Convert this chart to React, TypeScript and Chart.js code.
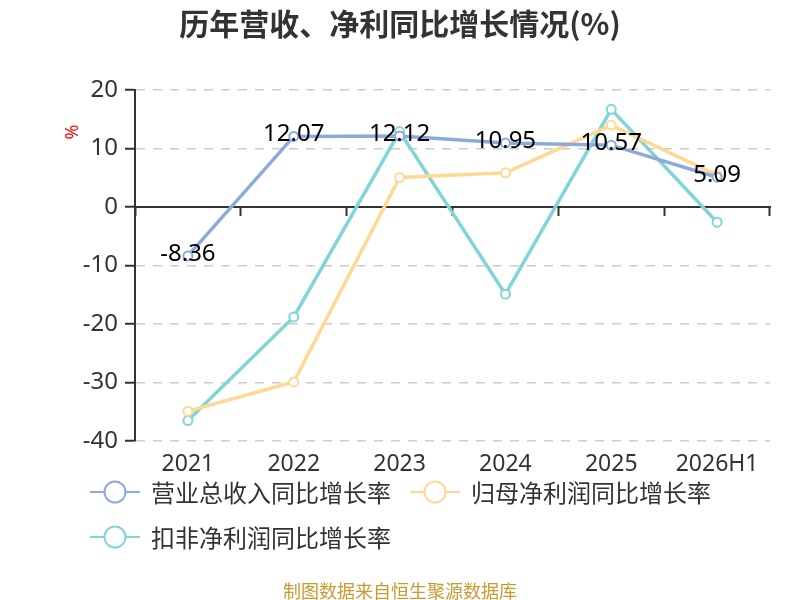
import { useEffect, useRef } from "react";
import { Chart, registerables } from "chart.js";
Chart.register(...registerables);

// chart data
const years = ["2021", "2022", "2023", "2024", "2025", "2026H1"];
const revenueGrowth = [-8.36, 12.07, 12.12, 10.95, 10.57, 5.09];
const netProfitGrowth = [-34.9, -29.9, 5.05, 5.85, 14.0, 5.45];
const deductedProfitGrowth = [-36.5, -18.8, 12.9, -14.9, 16.7, -2.6];
const seriesNames = ["营业总收入同比增长率", "归母净利润同比增长率", "扣非净利润同比增长率"];
const seriesColors = ["#8eaadc", "#ffd993", "#80d5d6"];
const yMin = -40;
const yMax = 20;
const yStep = 10;

const FONT = "'Noto Sans', 'Noto Sans CJK SC', sans-serif";

// draws the revenue values on top of the points
const valueLabels = {
  id: "valueLabels",
  afterDatasetsDraw(chart: Chart) {
    const ctx = chart.ctx;
    const meta = chart.getDatasetMeta(0);
    ctx.save();
    ctx.font = `24px ${FONT}`;
    ctx.fillStyle = "#000";
    ctx.textAlign = "center";
    ctx.textBaseline = "middle";
    meta.data.forEach((pt, i) => {
      ctx.fillText(revenueGrowth[i].toFixed(2), pt.x, pt.y - 2);
    });
    ctx.restore();
  },
};

// small red "%" unit beside the y axis
const unitLabel = {
  id: "unitLabel",
  afterDraw(chart: Chart) {
    const ctx = chart.ctx;
    ctx.save();
    ctx.translate(chart.chartArea.left - 62, chart.chartArea.top + 42);
    ctx.rotate(-Math.PI / 2);
    ctx.font = `18px ${FONT}`;
    ctx.fillStyle = "#ff0000";
    ctx.textAlign = "center";
    ctx.textBaseline = "middle";
    ctx.fillText("%", 0, 0);
    ctx.restore();
  },
};

function LegendIcon({ color }: { color: string }) {
  return (
    <svg width="50" height="26" style={{ display: "block" }}>
      <line x1="0" y1="13" x2="50" y2="13" stroke={color} strokeWidth="2" />
      <circle cx="25" cy="13" r="10.5" fill="#fff" stroke={color} strokeWidth="2" />
    </svg>
  );
}

export default function App() {
  const canvasRef = useRef<HTMLCanvasElement | null>(null);
  const chartRef = useRef<Chart<"line"> | null>(null);

  useEffect(() => {
    if (!canvasRef.current) return;
    const series = [revenueGrowth, netProfitGrowth, deductedProfitGrowth];
    chartRef.current = new Chart(canvasRef.current, {
      type: "line",
      data: {
        labels: years,
        datasets: series.map((values, i) => ({
          label: seriesNames[i],
          data: values,
          borderColor: seriesColors[i],
          backgroundColor: "#fff",
          borderWidth: 3.5,
          pointRadius: 4.5,
          pointBorderWidth: 2,
          pointBackgroundColor: "#fff",
          pointBorderColor: seriesColors[i],
          tension: 0,
        })),
      },
      options: {
        animation: false,
        responsive: false,
        maintainAspectRatio: false,
        layout: { padding: { top: 90, right: 30, left: 0, bottom: 0 } },
        plugins: {
          legend: { display: false },
          title: { display: false },
          tooltip: { enabled: false },
        },
        scales: {
          x: {
            type: "category",
            position: "bottom",
            offset: true,
            grid: { display: false, drawTicks: false },
            border: { display: false },
            ticks: { color: "#333", font: { size: 23, family: FONT }, padding: 10 },
            afterFit: (scale: any) => {
              scale.height = 159;
            },
          },
          x0: {
            type: "category",
            position: { y: 0 },
            offset: true,
            grid: {
              drawOnChartArea: false,
              offset: true,
              tickLength: 8,
              tickColor: "#333",
              tickWidth: 2,
            },
            border: { display: true, color: "#333", width: 2 },
            ticks: { display: false },
          },
          y: {
            min: yMin,
            max: yMax,
            ticks: {
              stepSize: yStep,
              color: "#333",
              font: { size: 24, family: FONT },
              padding: 7,
            },
            grid: {
              color: "#cccccc",
              lineWidth: 1.5,
              tickLength: 10,
              tickColor: "#333",
              tickWidth: 2,
            },
            border: { display: true, color: "#333", width: 2, dash: [9, 8] },
            afterFit: (scale: any) => {
              scale.width = 135;
            },
          },
        },
      } as any,
      plugins: [valueLabels, unitLabel],
    });

    return () => {
      if (chartRef.current) {
        chartRef.current.destroy();
      }
    };
  }, []);

  return (
    <div
      style={{
        position: "absolute",
        left: 0,
        top: 0,
        width: 800,
        height: 600,
        background: "#fff",
        fontFamily: FONT,
      }}
    >
      <canvas ref={canvasRef} width={800} height={600} style={{ position: "absolute", left: 0, top: 0 }} />
      <div
        style={{
          position: "absolute",
          left: 0,
          top: 2,
          width: 800,
          textAlign: "center",
          fontSize: 30,
          fontWeight: "bold",
          color: "#333",
          lineHeight: "40px",
          fontFamily: "'Noto Sans CJK SC', sans-serif",
        }}
      >
        历年营收、净利同比增长情况(%)
      </div>
      <div
        style={{
          position: "absolute",
          left: 90,
          top: 477,
          width: 640,
          display: "flex",
          flexWrap: "wrap",
          columnGap: 19,
          rowGap: 15,
        }}
      >
        {seriesNames.map((name, i) => (
          <div key={name} style={{ display: "flex", alignItems: "center", height: 30 }}>
            <LegendIcon color={seriesColors[i]} />
            <span
              style={{
                marginLeft: 11,
                fontSize: 24,
                color: "#333",
                lineHeight: "30px",
                fontFamily: "'Noto Sans CJK SC', sans-serif",
              }}
            >
              {name}
            </span>
          </div>
        ))}
      </div>
      <div
        style={{
          position: "absolute",
          left: 0,
          top: 578,
          width: 800,
          textAlign: "center",
          fontSize: 18,
          color: "#c99a34",
          lineHeight: "24px",
          fontFamily: "'Noto Sans CJK SC', sans-serif",
        }}
      >
        制图数据来自恒生聚源数据库
      </div>
    </div>
  );
}
